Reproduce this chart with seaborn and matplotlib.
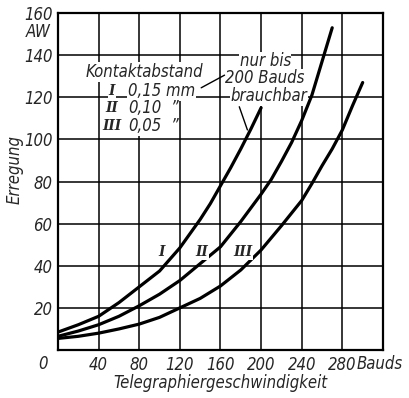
import matplotlib
matplotlib.use("Agg")
import matplotlib.pyplot as plt
import seaborn as sns
import pandas as pd

# Erregung (AW) vs. Telegraphiergeschwindigkeit (Bauds) for three contact gaps
x_I = [0, 20, 40, 60, 80, 100, 120, 140, 150, 160, 170, 180, 190, 200]
y_I = [8.5, 12, 16, 22.5, 30, 37.5, 48.5, 62, 69.5, 78, 86.5, 95.5, 105, 115]

x_II = [0, 20, 40, 60, 80, 100, 120, 140, 160, 180, 200, 210, 220, 230, 240, 250, 260, 265, 270]
y_II = [6.5, 9, 12, 16, 21, 26.5, 33, 41, 49, 61, 74, 81, 89.5, 98.5, 109, 121, 137, 145, 153]

x_III = [0, 20, 40, 60, 80, 100, 120, 140, 160, 180, 200, 220, 240, 250, 260, 270, 280, 290, 300]
y_III = [5.5, 6.5, 8, 10, 12.3, 15.5, 20, 24.5, 30.4, 38, 47.5, 59, 71, 79, 87.5, 95.5, 104.5, 116, 127]

curve_names = ["I", "II", "III"]
gap_labels = ["0,15 mm", "0,10", "0,05"]
x_ticks = [40, 80, 120, 160, 200, 240, 280]
y_ticks = [20, 40, 60, 80, 100, 120, 140, 160]

df = pd.concat([
    pd.DataFrame({"v": x_I, "aw": y_I, "curve": "I"}),
    pd.DataFrame({"v": x_II, "aw": y_II, "curve": "II"}),
    pd.DataFrame({"v": x_III, "aw": y_III, "curve": "III"}),
])

sns.set_style("white")
plt.rcParams["font.family"] = ["DejaVu Sans"]
plt.rcParams["font.style"] = "italic"
plt.rcParams["font.stretch"] = "condensed"

fig = plt.figure(figsize=(4.09, 3.98), dpi=100)
ax = fig.add_axes([0.1418, 0.1206, 0.7946, 0.8467])

for name in curve_names:
    sns.lineplot(data=df[df.curve == name], x="v", y="aw", ax=ax,
                 color="black", lw=2.3, sort=False, estimator=None,
                 solid_capstyle="round", solid_joinstyle="round", zorder=4)

ax.set_xlim(0, 320)
ax.set_ylim(0, 160)
ax.set_xticks(range(0, 321, 40))
ax.set_yticks(range(0, 161, 20))
ax.grid(True, color="black", lw=1.1)
for s in ax.spines.values():
    s.set_color("black")
    s.set_linewidth(1.6)
tfs = 12
ax.tick_params(length=0, labelsize=tfs, pad=4)
ax.set_xticklabels([str(t) if t in x_ticks else "" for t in range(0, 321, 40)])
ax.set_yticklabels([str(t) if t in y_ticks else "" for t in range(0, 161, 20)])
for lab in ax.get_xticklabels() + ax.get_yticklabels():
    lab.set_fontstretch("condensed")
    lab.set_fontstyle("italic")
ax.set_xlabel("")
ax.set_ylabel("")

kw = dict(fontsize=tfs, fontstretch="condensed", fontstyle="italic")
# origin, units and axis titles
ax.text(-10, -2.5, "0", ha="right", va="top", **kw)
ax.text(-7.5, 151, "AW", ha="right", va="center", **kw)
ax.text(294, -2.5, "Bauds", ha="left", va="top", **kw)
fig.text(0.538, 0.038, "Telegraphiergeschwindigkeit", ha="center", va="center", **kw)
fig.text(0.036, 0.575, "Erregung", ha="center", va="center", rotation=90, **kw)

box = dict(facecolor="white", edgecolor="none", pad=0.5)
# contact gap key
ax.text(27.5, 132, "Kontaktabstand", ha="left", va="center", bbox=box, zorder=3, **kw)
key_y = [123, 115, 106.4]
for name, lab, yy in zip(curve_names, gap_labels, key_y):
    ax.text(53, yy, name, ha="center", va="center", fontsize=11,
            family="DejaVu Serif", weight="bold", style="italic", bbox=box, zorder=3)
    ax.text(69, yy, lab, ha="left", va="center", bbox=box, zorder=3, **kw)
    if lab != gap_labels[0]:
        ax.text(115, yy, "\u201d", ha="center", va="center", bbox=box, zorder=3, **kw)

# usable-range note
ax.text(204, 137, "nur bis", ha="center", va="center", bbox=box, zorder=3, **kw)
ax.text(204, 129, "200 Bauds", ha="center", va="center", bbox=box, zorder=3, **kw)
ax.text(208, 120.5, "brauchbar", ha="center", va="center", bbox=box, zorder=3, **kw)
ax.plot([141, 164], [124.5, 130.5], color="black", lw=1.0, zorder=3)
ax.plot([178.5, 186.5], [115.5, 104.5], color="black", lw=1.0, zorder=3)

# curve labels
for name, (cx, cy) in zip(curve_names, [(102, 46.5), (141.5, 46.5), (182, 46.5)]):
    ax.text(cx, cy, name, ha="center", va="center", fontsize=11,
            family="DejaVu Serif", weight="bold", style="italic", bbox=box, zorder=5)

fig.savefig("out.png", dpi=100)
